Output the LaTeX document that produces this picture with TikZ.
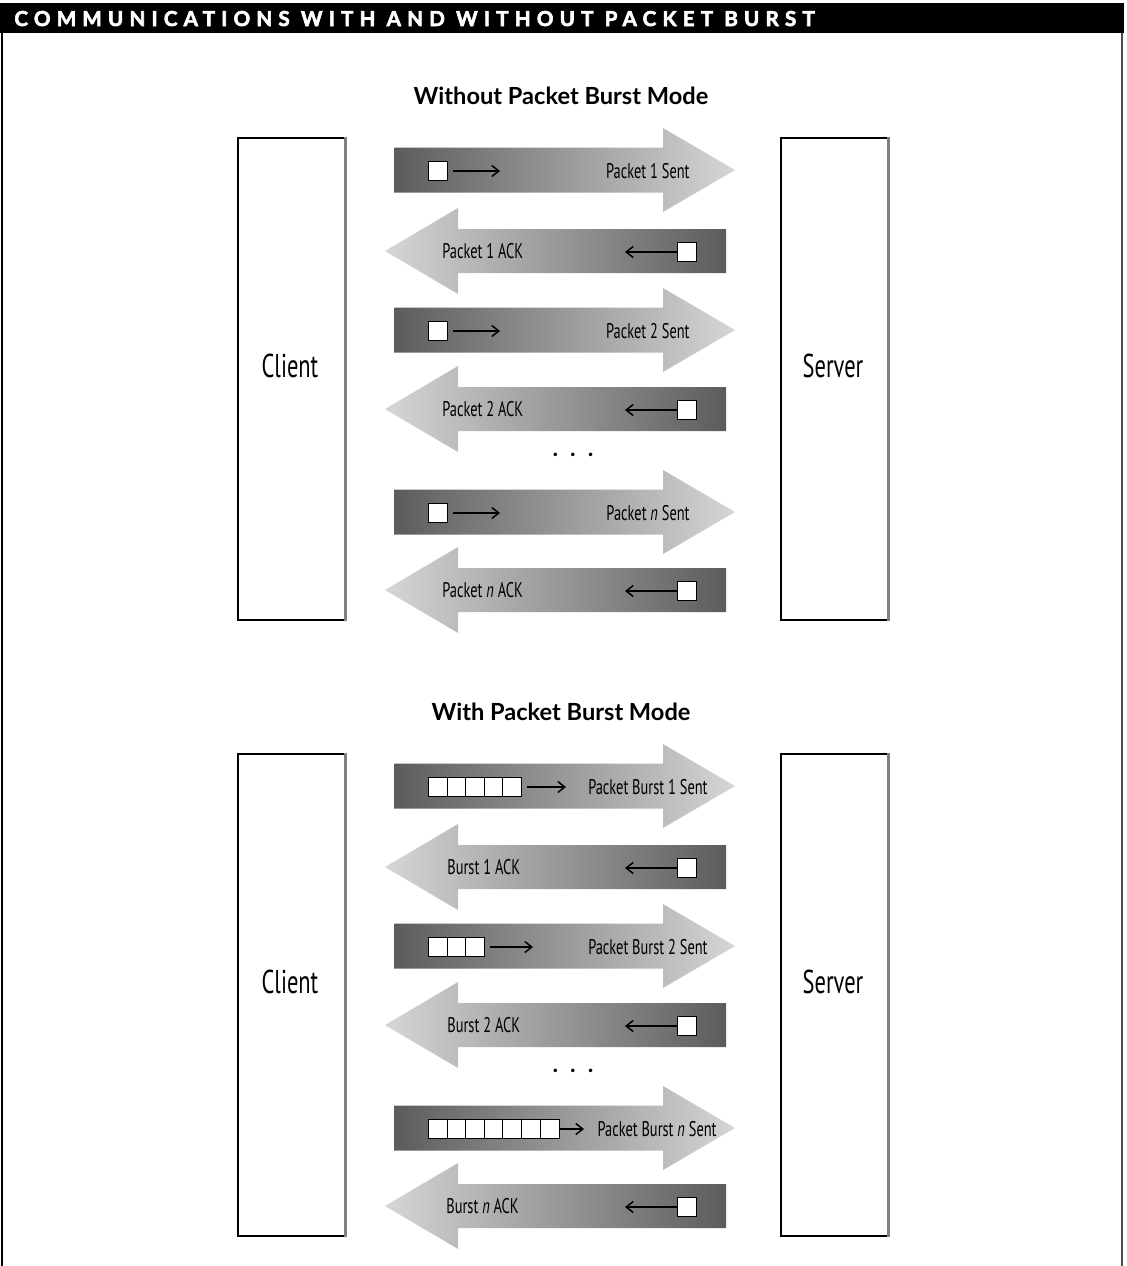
\documentclass[tikz,border=0pt]{standalone}
\usepackage{fontspec}
\setmainfont{Lato}
\newfontfamily\condfont{PT Sans}[FakeStretch=0.68]
\newfontfamily\capsfont{Lato}[LetterSpace=30, BoldFeatures={FakeBold=3}]
\usetikzlibrary{arrows.meta,positioning}

\tikzset{
  hostbox/.style={draw, line width=0.6pt, fill=white, minimum width=53.5pt, minimum height=241pt, inner sep=0pt},
  hostname/.style={font=\condfont\fontsize{16.5}{18}\selectfont, inner sep=0pt},
  pkt/.style={draw, fill=white, line width=0.5pt, minimum size=9.5pt, inner sep=0pt},
  msg/.style={font=\condfont\fontsize{10.6}{12}\selectfont, inner sep=0pt},
  flow/.style={-{Straight Barb[length=3.5pt,width=5.5pt]}, line width=0.75pt},
  heading/.style={font=\bfseries\fontsize{11.8}{13}\selectfont, inner sep=0pt},
}

% big shaded arrows, argument = row centre
\newcommand{\sentshape}[1]{%
  \shade[left color=black!64, right color=black!16]
    (394,#1-22.5) -- (663,#1-22.5) -- (663,#1-42) -- (735,#1) -- (663,#1+42)
    -- (663,#1+22.5) -- (394,#1+22.5) -- cycle;}
\newcommand{\ackshape}[1]{%
  \shade[left color=black!16, right color=black!64]
    (726,#1-22) -- (458,#1-22) -- (458,#1-43) -- (385,#1) -- (458,#1+43)
    -- (458,#1+22) -- (726,#1+22) -- cycle;}

\begin{document}
\begin{tikzpicture}[x=0.5pt, y=-0.5pt]
    \useasboundingbox (0,0) rectangle (1127,1266);

    % Frame and header
    \fill[black] (0,3) rectangle (1124,33);
    \draw[line width=1pt] (2,33) -- (2,1266);
    \draw[line width=1pt, black!70] (1122,33) -- (1122,1266);
    \node[anchor=base west, text=white, inner sep=0pt, font=\capsfont\bfseries\fontsize{10.3}{11}\selectfont] (header) at (14,26) {COMMUNICATIONS WITH AND WITHOUT PACKET BURST};

    % ---------- Without Packet Burst Mode ----------
    \node[heading] (titleA) at (561,96) {Without Packet Burst Mode};
    \node[hostbox] (clientA) at (291.5,379) {};
    \node[hostbox] (serverA) at (834.5,379) {};
    \draw[black!50, line width=1.2pt] (clientA.north east) -- (clientA.south east);
    \draw[black!50, line width=1.2pt] (serverA.north east) -- (serverA.south east);
    \node[hostname] (clientAtxt) at (290,366) {Client};
    \node[hostname] (serverAtxt) at (833,366) {Server};

    \sentshape{170}
    \node[pkt] (sa1) at (438,171) {};
    \coordinate (sa1end) at (500,171);
    \draw[flow] (sa1.east) ++(2.5pt,0) -- (sa1end);
    \node[msg, anchor=base east] (sa1txt) at (690,178) {Packet 1 Sent};

    \ackshape{251}
    \node[pkt] (aa1) at (687,252) {};
    \coordinate (aa1end) at (625,252);
    \draw[flow] (aa1) -- (aa1end);
    \node[msg, anchor=base west] (aa1txt) at (442,258) {Packet 1 ACK};

    \sentshape{330}
    \node[pkt] (sa2) at (438,331) {};
    \coordinate (sa2end) at (500,331);
    \draw[flow] (sa2.east) ++(2.5pt,0) -- (sa2end);
    \node[msg, anchor=base east] (sa2txt) at (690,338) {Packet 2 Sent};

    \ackshape{409}
    \node[pkt] (aa2) at (687,410) {};
    \coordinate (aa2end) at (625,410);
    \draw[flow] (aa2) -- (aa2end);
    \node[msg, anchor=base west] (aa2txt) at (442,416) {Packet 2 ACK};

    \node[heading] (dotsA) at (573,455) {.\hspace{6pt}.\hspace{6pt}.};

    \sentshape{512}
    \node[pkt] (san) at (438,513) {};
    \coordinate (sanend) at (500,513);
    \draw[flow] (san.east) ++(2.5pt,0) -- (sanend);
    \node[msg, anchor=base east] (santxt) at (690,520) {Packet \textit{n} Sent};

    \ackshape{590}
    \node[pkt] (aan) at (687,591) {};
    \coordinate (aanend) at (625,591);
    \draw[flow] (aan) -- (aanend);
    \node[msg, anchor=base west] (aantxt) at (442,597) {Packet \textit{n} ACK};

    % ---------- With Packet Burst Mode ----------
    \node[heading] (titleB) at (561,712) {With Packet Burst Mode};
    \node[hostbox] (clientB) at (291.5,995) {};
    \node[hostbox] (serverB) at (834.5,995) {};
    \draw[black!50, line width=1.2pt] (clientB.north east) -- (clientB.south east);
    \draw[black!50, line width=1.2pt] (serverB.north east) -- (serverB.south east);
    \node[hostname] (clientBtxt) at (290,982) {Client};
    \node[hostname] (serverBtxt) at (833,982) {Server};

    \sentshape{786}
    \foreach \i in {0,...,4}
        \node[pkt] (sb1\i) at (438+\i*18.6,787) {};
    \coordinate (sb1end) at (566,787);
    \draw[flow] (sb14.east) ++(2.5pt,0) -- (sb1end);
    \node[msg, anchor=base east] (sb1txt) at (708,794) {Packet Burst 1 Sent};

    \ackshape{867}
    \node[pkt] (ab1) at (687,868) {};
    \coordinate (ab1end) at (625,868);
    \draw[flow] (ab1) -- (ab1end);
    \node[msg, anchor=base west] (ab1txt) at (447,874) {Burst 1 ACK};

    \sentshape{946}
    \foreach \i in {0,...,2}
        \node[pkt] (sb2\i) at (438+\i*18.6,947) {};
    \coordinate (sb2end) at (533,947);
    \draw[flow] (sb22.east) ++(2.5pt,0) -- (sb2end);
    \node[msg, anchor=base east] (sb2txt) at (708,954) {Packet Burst 2 Sent};

    \ackshape{1025}
    \node[pkt] (ab2) at (687,1026) {};
    \coordinate (ab2end) at (625,1026);
    \draw[flow] (ab2) -- (ab2end);
    \node[msg, anchor=base west] (ab2txt) at (447,1032) {Burst 2 ACK};

    \node[heading] (dotsB) at (573,1071) {.\hspace{6pt}.\hspace{6pt}.};

    \sentshape{1128}
    \foreach \i in {0,...,6}
        \node[pkt] (sbn\i) at (438+\i*18.6,1129) {};
    \coordinate (sbnend) at (584,1129);
    \draw[flow] (sbn6) -- (sbnend);
    \node[msg, anchor=base east] (sbntxt) at (717,1136) {Packet Burst \textit{n} Sent};

    \ackshape{1206}
    \node[pkt] (abn) at (687,1207) {};
    \coordinate (abnend) at (625,1207);
    \draw[flow] (abn) -- (abnend);
    \node[msg, anchor=base west] (abntxt) at (446,1213) {Burst \textit{n} ACK};
\end{tikzpicture}
\end{document}
